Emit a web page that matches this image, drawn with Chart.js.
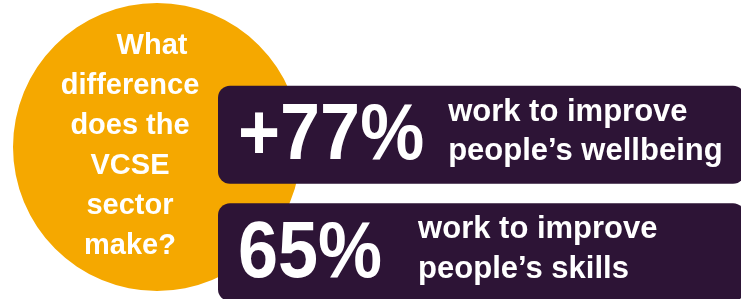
<!DOCTYPE html>
<html>
<head>
<meta charset="utf-8">
<script src="https://cdn.jsdelivr.net/npm/chart.js@4"></script>
<style>
  html, body { margin: 0; padding: 0; background: #ffffff; overflow: hidden; width: 741px; height: 299px; }
  #circleChart { position: absolute; left: 13px; top: 3px; }
  #statChart { position: absolute; left: 0; top: 0; }
</style>
</head>
<body>
<canvas id="circleChart" width="288" height="288"></canvas>
<canvas id="statChart" width="760" height="320"></canvas>
<script>
// ===============================
// DATA
// ===============================
const question = ["What", "difference", "does the", "VCSE", "sector", "make?"];
const circleShare = [100]; // one full slice

const statValues = [77, 65];
const statPrefix = ["+", ""];
const statLines = [
  ["work to improve", "people\u2019s wellbeing"],
  ["work to improve", "people\u2019s skills"]
];
const panel = [100, 100]; // every stat sits on a full-width panel
const categories = ["wellbeing", "skills"];

// ===============================
// STYLE
// ===============================
const ORANGE = "#f5a800";
const PURPLE = "#2d1436";
const FONT = "'Liberation Sans', Arial, sans-serif";

/* question text inside the circle */
const questionText = {
  id: "questionText",
  afterDraw(chart) {
    const ctx = chart.ctx;
    const arc = chart.getDatasetMeta(0).data[0];
    ctx.save();
    ctx.fillStyle = "#ffffff";
    ctx.font = "bold 29px " + FONT;
    ctx.textAlign = "center";
    ctx.textBaseline = "alphabetic";
    question.forEach((line, i) => {
      const x = arc.x - 27 + (i === 0 ? 22 : 0);
      const y = arc.y - 93 + i * 40;
      ctx.fillText(line, x, y);
    });
    ctx.restore();
  }
};

new Chart(document.getElementById("circleChart"), {
  type: "pie",
  data: {
    labels: ["question"],
    datasets: [{ data: circleShare, backgroundColor: [ORANGE], borderWidth: 0 }]
  },
  options: {
    responsive: false,
    animation: false,
    layout: { padding: 0 },
    plugins: { legend: { display: false }, tooltip: { enabled: false } }
  },
  plugins: [questionText]
});

/* big numbers and descriptions on each panel */
const descGap = [24, 36];
const statText = {
  id: "statText",
  afterDatasetsDraw(chart) {
    const ctx = chart.ctx;
    const bars = chart.getDatasetMeta(0).data;
    ctx.save();
    ctx.fillStyle = "#ffffff";
    ctx.textAlign = "left";
    ctx.textBaseline = "alphabetic";
    bars.forEach((bar, i) => {
      const left = Math.min(bar.x, bar.base);
      const numX = left + 20;
      const label = statPrefix[i] + statValues[i] + "%";
      ctx.font = "bold 72px " + FONT;
      const w = ctx.measureText(label).width;
      ctx.save();
      ctx.translate(numX, bar.y + 24.5);
      ctx.scale(1, 1.1);
      ctx.fillText(label, 0, 0);
      ctx.restore();

      ctx.font = "bold 31px " + FONT;
      const tx = numX + w + descGap[i];
      ctx.fillText(statLines[i][0], tx, bar.y - 14);
      ctx.fillText(statLines[i][1], tx, bar.y + 25.5);
    });
    ctx.restore();
  }
};

new Chart(document.getElementById("statChart"), {
  type: "bar",
  data: {
    labels: categories,
    datasets: [{
      data: panel,
      backgroundColor: PURPLE,
      borderWidth: 0,
      borderRadius: 12,
      borderSkipped: false,
      barPercentage: 0.834,
      categoryPercentage: 1
    }]
  },
  options: {
    indexAxis: "y",
    responsive: false,
    animation: false,
    layout: { padding: { left: 218, right: 15, top: 76, bottom: 9 } },
    scales: {
      x: { display: false, min: 0, max: 100 },
      y: { display: false }
    },
    plugins: { legend: { display: false }, tooltip: { enabled: false } }
  },
  plugins: [statText]
});
</script>
</body>
</html>
